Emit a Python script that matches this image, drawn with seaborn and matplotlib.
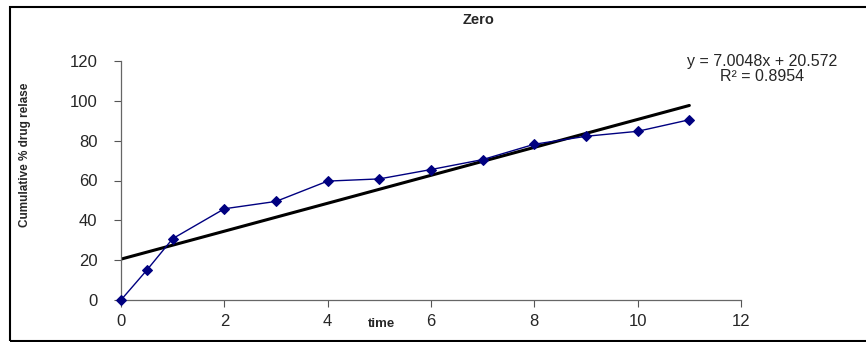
import numpy as np
import pandas as pd
import seaborn as sns
import matplotlib.pyplot as plt
from matplotlib.patches import Rectangle

# data
time = [0, 0.5, 1, 2, 3, 4, 5, 6, 7, 8, 9, 10, 11]
release = [0, 15.0, 30.8, 45.8, 49.5, 59.7, 60.8, 65.5, 70.5, 78.2, 82.2, 84.7, 90.5]
x_ticks = [0, 2, 4, 6, 8, 10, 12]
y_ticks = [0, 20, 40, 60, 80, 100, 120]
equation = "y = 7.0048x + 20.572"
r_squared = "R\u00b2 = 0.8954"

df = pd.DataFrame({"time": time, "release": release})

sns.set_style("white")
plt.rcParams['font.family'] = ['Liberation Sans', 'DejaVu Sans']

fig = plt.figure(figsize=(8.66, 3.42), dpi=100)
ax = fig.add_axes([121 / 866, 1 - 300 / 342, 620 / 866, 239 / 342])

# outer chart frame
fig.patches.append(Rectangle((10 / 866, 1 / 342), 1.0, 334 / 342, transform=fig.transFigure,
                             fill=False, edgecolor='black', linewidth=1.5))

# linear trend line
sns.regplot(data=df, x="time", y="release", ax=ax, scatter=False, ci=None,
            truncate=True, line_kws={"color": "black", "linewidth": 2.2})

# data series
sns.lineplot(data=df, x="time", y="release", ax=ax, color="#000080", linewidth=1,
             marker="D", markersize=5, markeredgecolor="#000080", markerfacecolor="#000080",
             clip_on=False, zorder=3)

ax.set_xlim(0, 12)
ax.set_ylim(0, 120)
ax.set_xticks(x_ticks)
ax.set_yticks(y_ticks)
ax.tick_params(axis='both', which='major', direction='out', length=5, width=0.8,
               color='#555555', labelsize=12, bottom=True, left=True)
ax.tick_params(axis='y', pad=12)
ax.tick_params(axis='x', pad=5)

for side in ['top', 'right']:
    ax.spines[side].set_visible(False)
for side in ['left', 'bottom']:
    ax.spines[side].set_color('#666666')
    ax.spines[side].set_linewidth(0.9)

ax.set_xlabel("time", fontsize=9.5, fontweight='bold')
ax.xaxis.set_label_coords(0.42, -0.075)
ax.set_ylabel("Cumulative % drug relase", fontsize=8.5, fontweight='bold')
ax.yaxis.set_label_coords(-0.145, 0.607)

fig.text(479 / 866, 1 - 20 / 342, "Zero", ha='center', va='center', fontsize=10.5, fontweight='bold')
fig.text(762 / 866, 1 - 66 / 342, equation, ha='center', va='baseline', fontsize=11.5)
fig.text(762 / 866, 1 - 81 / 342, r_squared, ha='center', va='baseline', fontsize=11.5)

plt.savefig("out.png", dpi=100)
